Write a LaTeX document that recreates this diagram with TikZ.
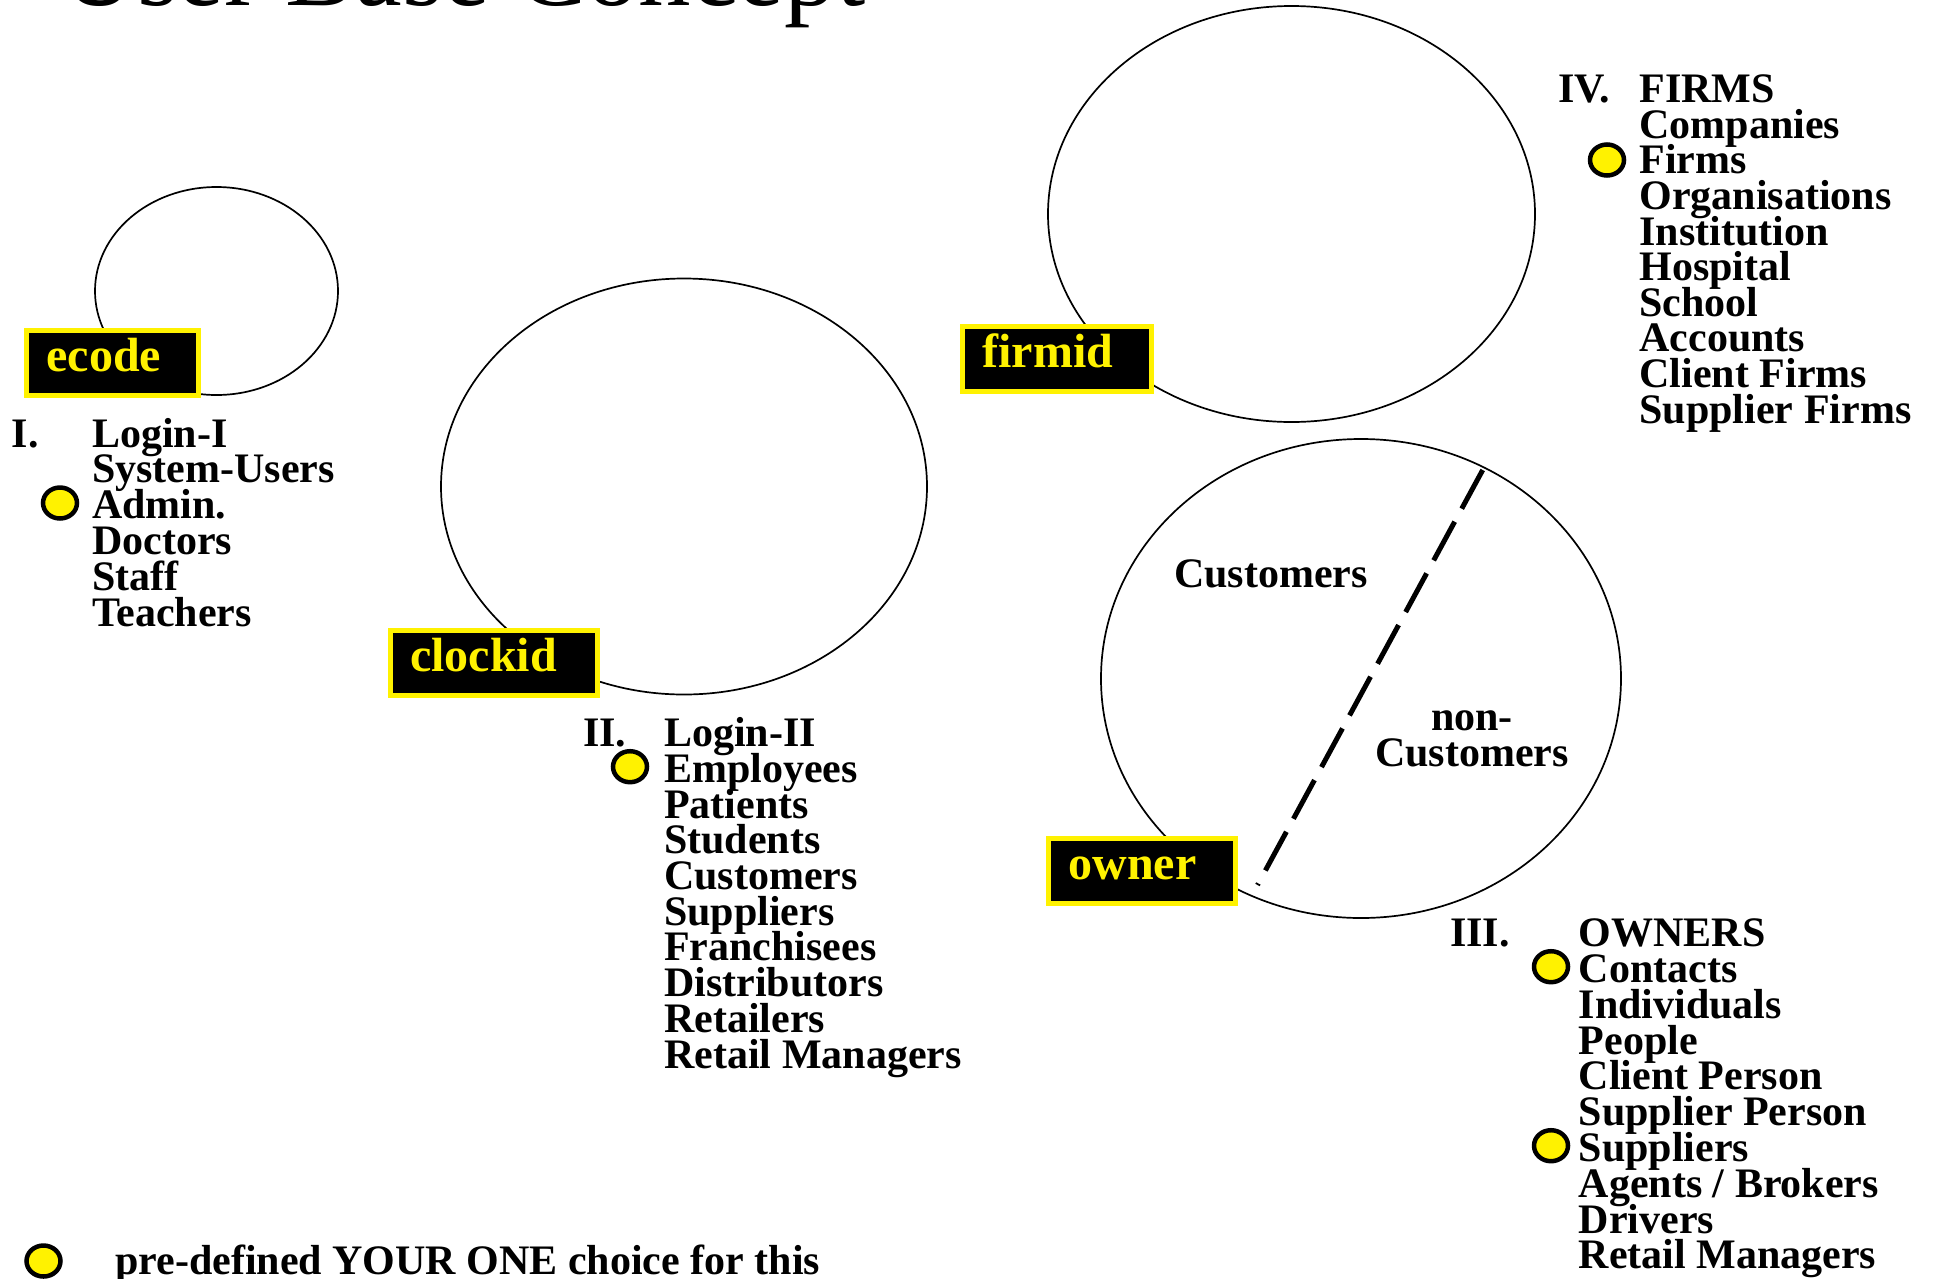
\documentclass[tikz,border=0pt]{standalone}
\usepackage{fontspec}
\setmainfont{Liberation Serif}
\usetikzlibrary{shapes.geometric}
\newcommand\listfnt{\bfseries\fontsize{42}{42}\selectfont}
\newcommand\tagfnt{\bfseries\fontsize{48}{48}\selectfont}
\newcommand\titlefnt{\fontsize{105}{105}\selectfont}

\begin{document}
\begin{tikzpicture}[x=1pt,y=-1pt,
  item/.style={font=\listfnt, anchor=base west, inner sep=0pt},
  midtext/.style={font=\listfnt, anchor=base, inner sep=0pt},
  ring/.style={ellipse, draw=black, line width=1.7pt, inner sep=0pt, outer sep=0pt},
  tag/.style={rectangle, draw=yellow, fill=black, line width=5pt, text=yellow,
    font=\tagfnt, anchor=north west, inner xsep=20pt, inner ysep=5pt,
    text height=35.5pt, text depth=19.5pt, align=left, outer sep=0pt},
  pick/.style={ellipse, draw=black, fill=yellow, line width=4.5pt,
    minimum width=34pt, minimum height=31pt, inner sep=0pt},
  cut/.style={line width=5pt, dash pattern=on 44pt off 14.8pt}
]
\useasboundingbox (0,0) rectangle (1933,1278);
\clip (0,0) rectangle (1933,1278);

% heading, mostly above the page edge
\node[font=\titlefnt, anchor=base west, inner sep=0pt] (title) at (61,5) {User Base Concept};

% the four user circles
\node[ring, minimum width=243pt, minimum height=208pt] (ringI)   at (216.5,291) {};
\node[ring, minimum width=486pt, minimum height=416pt] (ringII)  at (684,486.5) {};
\node[ring, minimum width=520pt, minimum height=479pt] (ringIII) at (1361,678.5) {};
\node[ring, minimum width=487pt, minimum height=416pt] (ringIV)  at (1291.5,214) {};

% split of the owner circle
\coordinate (cutTop) at (1482.7,470);
\coordinate (cutEnd) at (1257.5,885);
\draw[cut] (cutTop) -- (cutEnd);

\node[item] (cust) at (1174,587) {Customers};
\node[midtext] (non) at (1472,730) {non-};
\node[midtext] (noncust) at (1472,766.7) {Customers};

% key field tags
\node[tag, text width=132pt]   (ecode)   at (26.5,330.5)  {ecode};
\node[tag, text width=167pt]   (clockid) at (390.2,630.8) {clockid};
\node[tag, text width=148.5pt] (firmid)  at (962.5,326.5) {firmid};
\node[tag, text width=147pt]   (owner)   at (1048.5,838.5) {owner};

% I. login users
\node[item] (numI) at (11.7,447) {I.};
\foreach \t [count=\i from 0] in {Login-I,System-Users,Admin.,Doctors,Staff,Teachers}
  \node[item] (one-\i) at (92,{447+35.8*\i}) {\t};

% II. clock users
\node[item] (numII) at (583,746.7) {II.};
\foreach \t [count=\i from 0] in {Login-II,Employees,Patients,Students,Customers,Suppliers,Franchisees,Distributors,Retailers,Retail Managers}
  \node[item] (two-\i) at (664,{746.7+35.7*\i}) {\t};

% III. owners
\node[item] (numIII) at (1450,946.7) {III.};
\foreach \t [count=\i from 0] in {OWNERS,Contacts,Individuals,People,Client Person,Supplier Person,Suppliers,Agents / Brokers,Drivers,Retail Managers}
  \node[item] (three-\i) at (1578.5,{946.7+35.8*\i}) {\t};

% IV. firms
\node[item] (numIV) at (1558,102.7) {IV.};
\foreach \t [count=\i from 0] in {FIRMS,Companies,Firms,Organisations,Institution,Hospital,School,Accounts,Client Firms,Supplier Firms}
  \node[item] (four-\i) at (1639.3,{102.7+35.6*\i}) {\t};

% chosen entries
\node[pick] (pickI)    at (60,503) {};
\node[pick] (pickII)   at (630,766.7) {};
\node[pick] (pickIIIa) at (1551,966.7) {};
\node[pick] (pickIIIb) at (1551,1145.7) {};
\node[pick] (pickIV)   at (1607,160) {};

% key
\node[pick] (pickKey) at (43.5,1261) {};
\node[item] (keyText) at (115,1274) {pre-defined YOUR ONE choice for this};
\end{tikzpicture}
\end{document}
